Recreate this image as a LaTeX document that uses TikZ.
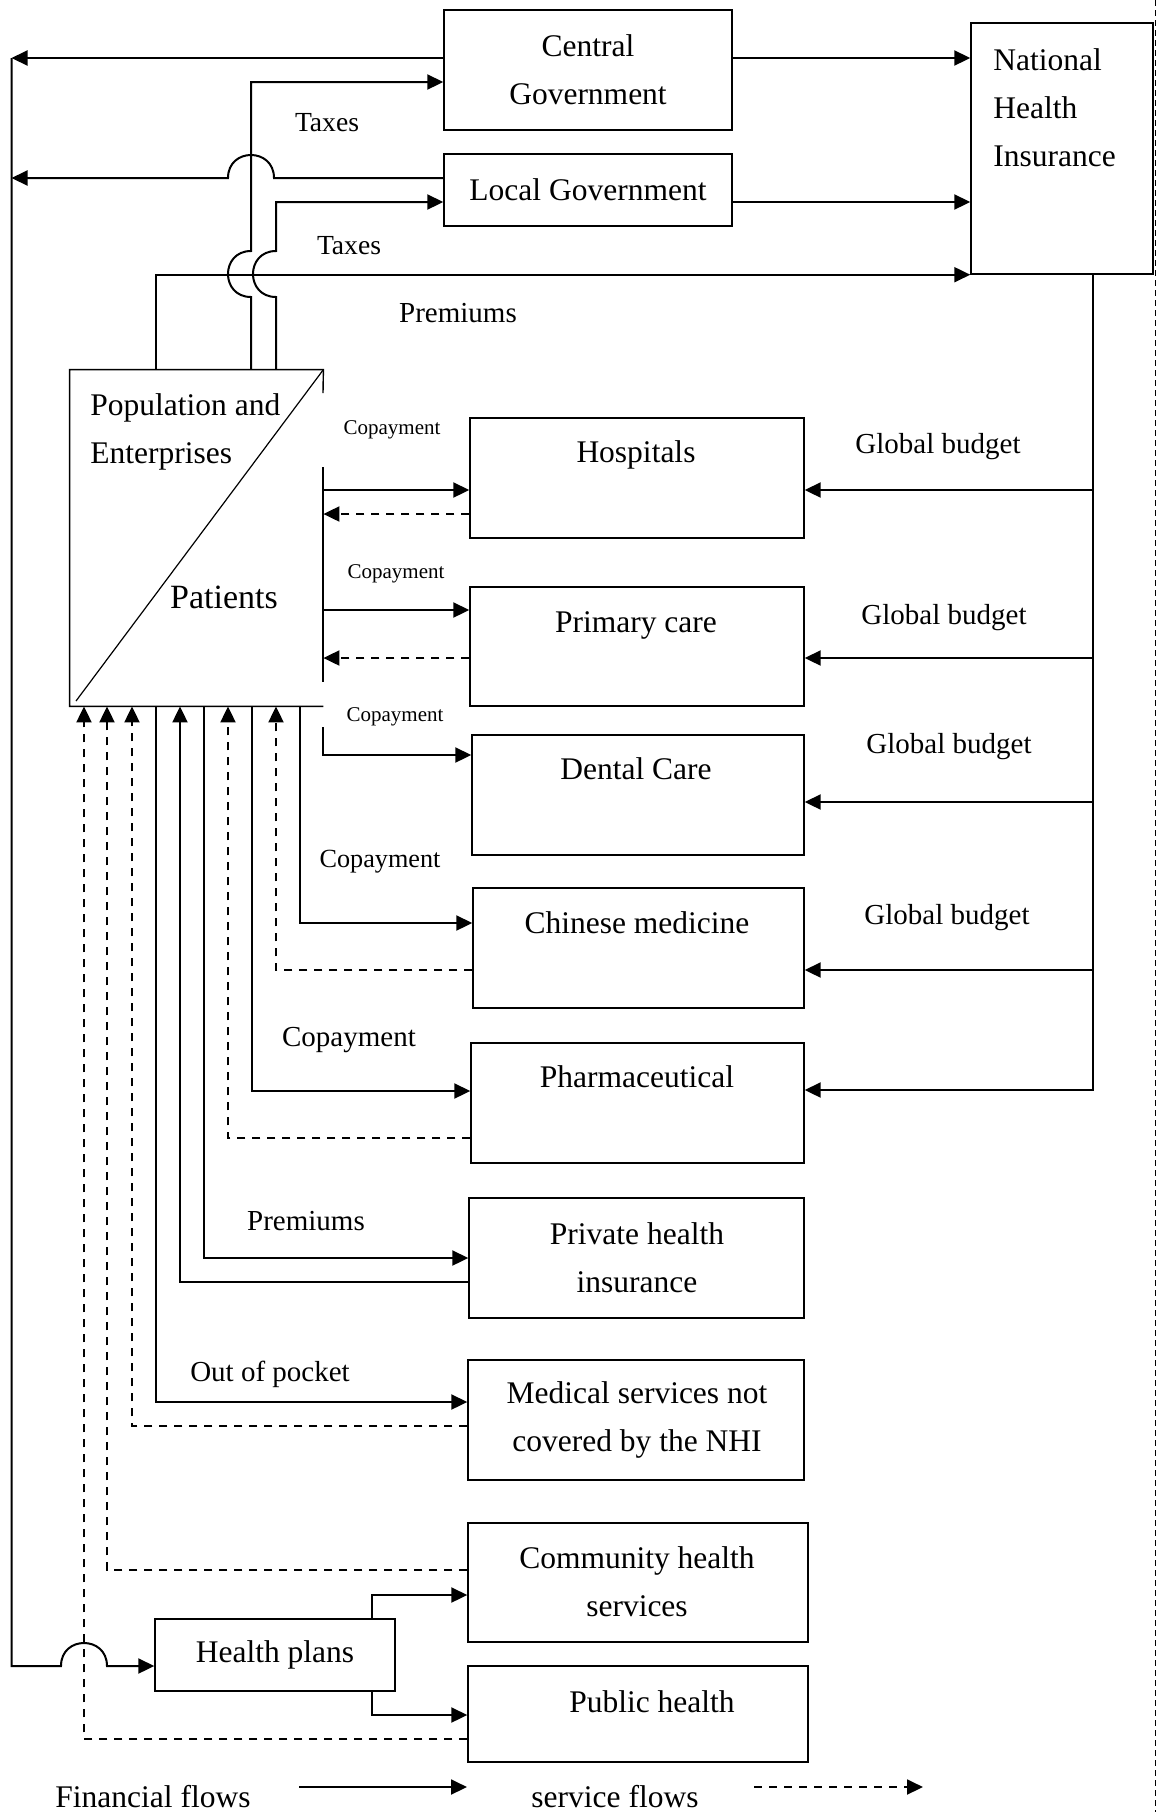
\documentclass[tikz,border=0pt]{standalone}
\usepackage{fontspec}
\setmainfont{Liberation Serif}
\usetikzlibrary{arrows.meta,fit}
\begin{document}
\begin{tikzpicture}[x=0.5pt,y=-0.5pt,
  box/.style={draw,line width=0.7pt,inner sep=0pt},
  boxline/.style={line width=0.7pt},
  fin/.style={line width=1pt,-{Triangle[length=8pt,width=7.5pt]}},
  finline/.style={line width=1pt},
  svc/.style={line width=1pt,dash pattern=on 4pt off 3.5pt,-{Triangle[length=8pt,width=7.5pt]}},
  txt/.style={font=\fontsize{15.75}{24}\selectfont,inner sep=0pt,align=center},
  lbl/.style={font=\fontsize{14.5}{17}\selectfont,inner sep=0pt},
  small/.style={font=\fontsize{10.5}{12}\selectfont,inner sep=0pt},
  mid/.style={font=\fontsize{13.1}{15}\selectfont,inner sep=0pt},
  tax/.style={font=\fontsize{13.8}{16}\selectfont,inner sep=0pt}]
\useasboundingbox (0,0) rectangle (1160,1812);

% boxes
\node[box,fit={(444,10)(732,130)}] (cg) {};
\node[box,fit={(444,154)(732,226)}] (lg) {};
\node[box,fit={(971,23)(1153,274)}] (nhi) {};
\node[inner sep=0pt,fit={(70,370)(323,706)}] (pop) {};
\node[box,fit={(470,418)(804,538)}] (hosp) {};
\node[box,fit={(470,587)(804,706)}] (prim) {};
\node[box,fit={(472,735)(804,855)}] (dent) {};
\node[box,fit={(473,888)(804,1008)}] (chin) {};
\node[box,fit={(471,1043)(804,1163)}] (pharm) {};
\node[box,fit={(469,1198)(804,1318)}] (phi) {};
\node[box,fit={(468,1360)(804,1480)}] (ms) {};
\node[box,fit={(468,1523)(808,1642)}] (chs) {};
\node[box,fit={(155,1619)(395,1691)}] (hp) {};
\node[box,fit={(468,1666)(808,1762)}] (ph) {};

% population box outline (parts hidden behind labels)
\draw[boxline] (323,393) -- (pop.north east) -- (pop.north west) -- (pop.south west) -- (pop.south east);
\draw[boxline] (323,467) -- (323,682);
\draw[line width=0.6pt] (76,701) -- (pop.north east);

% box texts
\node[txt] (cgT) at (588,70) {Central\\Government};
\node[txt] (lgT) at (588,190) {Local Government};
\node[txt,align=left,anchor=west] (nhiT) at (993,108) {National\\Health\\Insurance};
\node[txt,align=left,anchor=west] (popT) at (90,432) {Population and\\Enterprises};
\node[txt,font=\fontsize{17}{20}\selectfont] (patT) at (224,597) {Patients};
\node[txt] (hospT) at (636,455) {Hospitals};
\node[txt] (primT) at (636,625) {Primary care};
\node[txt] (dentT) at (636,769) {Dental Care};
\node[txt] (chinT) at (637,923) {Chinese medicine};
\node[txt] (pharmT) at (637,1077) {Pharmaceutical};
\node[txt] (phiT) at (637,1258) {Private health\\insurance};
\node[txt] (msT) at (637,1420) {Medical services not\\covered by the NHI};
\node[txt] (chsT) at (637,1582) {Community health\\services};
\node[txt] (hpT) at (275,1655) {Health plans};
\node[txt] (phT) at (652,1702) {Public health};

% labels
\node[tax] (tax1) at (327,123) {Taxes};
\node[tax] (tax2) at (349,246) {Taxes};
\node[lbl] (prem1) at (458,313) {Premiums};
\node[lbl] (gb1) at (938,447) {Global budget};
\node[lbl] (gb2) at (944,618) {Global budget};
\node[lbl] (gb3) at (949,747) {Global budget};
\node[lbl] (gb4) at (947,918) {Global budget};
\node[small] (cp1) at (392,430) {Copayment};
\node[small] (cp2) at (396,574) {Copayment};
\node[small] (cp3) at (395,717) {Copayment};
\node[mid] (cp4) at (380,862) {Copayment};
\node[lbl] (cp5) at (349,1040) {Copayment};
\node[lbl] (prem2) at (306,1221) {Premiums};
\node[lbl] (oop) at (270,1374) {Out of pocket};

% government flows
\coordinate (lt) at (11.5,58);
\coordinate (lm) at (11.5,178);
\coordinate (lb) at (11.5,1666);
\draw[fin] (cg.west |- lt) -- (lt);
\draw[fin] (lg.west |- lm) -- (274,178) .. controls (274,147.3) and (228,147.3) .. (228,178) -- (lm);
\draw[fin] (lt) -- (lb) -- (61,1666) .. controls (61,1635.3) and (107,1635.3) .. (107,1666) -- (hp.west |- lb);
\draw[fin] (cg.east |- lt) -- (nhi.west |- lt);
\draw[fin] (lg.east |- 0,202) -- (nhi.west |- 0,202);

% taxes and premiums from population
\draw[fin] (pop.north -| 251,0) -- (251,297) .. controls (220.3,297) and (220.3,251) .. (251,251) -- (251,82) -- (cg.west |- 0,82);
\draw[fin] (pop.north -| 276,0) -- (276,297) .. controls (245.3,297) and (245.3,251) .. (276,251) -- (276,202) -- (lg.west |- 0,202);
\draw[fin] (pop.north -| 156,0) |- (nhi.south west);

% global budgets
\draw[fin] (nhi.south -| 1093,0) |- (hosp.east |- 0,490);
\draw[fin] (nhi.south -| 1093,0) |- (prim.east |- 0,658);
\draw[fin] (nhi.south -| 1093,0) |- (dent.east |- 0,802);
\draw[fin] (nhi.south -| 1093,0) |- (chin.east |- 0,970);
\draw[fin] (nhi.south -| 1093,0) |- (pharm.east |- 0,1090);

% copayments and services
\draw[fin] (pop.east |- 0,490) -- (hosp.west |- 0,490);
\draw[svc] (hosp.west |- 0,514) -- (pop.east |- 0,514);
\draw[fin] (pop.east |- 0,610) -- (prim.west |- 0,610);
\draw[svc] (prim.west |- 0,658) -- (pop.east |- 0,658);
\draw[fin] (323,727) -- (323,755) -- (dent.west |- 0,755);
\draw[fin] (pop.south -| 300,0) |- (chin.west |- 0,923);
\draw[svc] (chin.west |- 0,970) -| (pop.south -| 276,0);
\draw[fin] (pop.south -| 252,0) |- (pharm.west |- 0,1091);
\draw[svc] (pharm.west |- 0,1138) -| (pop.south -| 228,0);
\draw[fin] (pop.south -| 204,0) |- (phi.west |- 0,1258);
\draw[fin] (phi.west |- 0,1282) -| (pop.south -| 180,0);
\draw[fin] (pop.south -| 156,0) |- (ms.west |- 0,1402);
\draw[svc] (ms.west |- 0,1426) -| (pop.south -| 132,0);
\draw[svc] (chs.west |- 0,1570) -| (pop.south -| 107,0);
\draw[svc] (ph.west |- 0,1739) -| (pop.south -| 84,0);
\draw[fin] (hp.north -| 372,0) |- (chs.west |- 0,1595);
\draw[fin] (hp.south -| 372,0) |- (ph.west |- 0,1715);

% right dashed border
\coordinate (rt) at (1155,0);
\coordinate (rb) at (1155,1812);
\draw[line width=0.5pt,dash pattern=on 3pt off 2pt] (rt) -- (rb);

% legend
\node[txt] (legF) at (153,1797) {Financial flows};
\node[txt] (legS) at (615,1797) {service flows};
\coordinate (lf1) at (299,1787);
\coordinate (lf2) at (467,1787);
\coordinate (ls1) at (754,1787);
\coordinate (ls2) at (923,1787);
\draw[fin] (lf1) -- (lf2);
\draw[svc] (ls1) -- (ls2);
\end{tikzpicture}
\end{document}
